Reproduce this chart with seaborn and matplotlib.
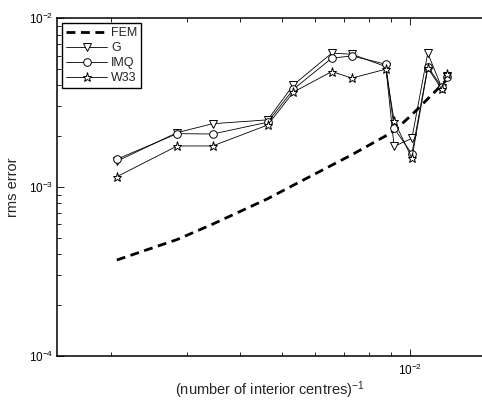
import numpy as np
import pandas as pd
import matplotlib
matplotlib.use("Agg")
import matplotlib.pyplot as plt
from matplotlib.ticker import LogLocator, NullFormatter, FixedLocator
import seaborn as sns

# inverse number of interior centres
h = [2.06e-3, 2.85e-3, 3.45e-3, 4.64e-3, 5.33e-3, 6.55e-3, 7.30e-3,
     8.76e-3, 9.16e-3, 1.008e-2, 1.098e-2, 1.184e-2, 1.216e-2]

fem = [3.69e-4, 4.88e-4, 6.02e-4, 8.52e-4, 1.025e-3, 1.346e-3, 1.553e-3,
       2.01e-3, 2.15e-3, 2.68e-3, 3.33e-3, 4.03e-3, 4.31e-3]
g = [1.42e-3, 2.10e-3, 2.37e-3, 2.50e-3, 4.03e-3, 6.21e-3, 6.12e-3,
     5.17e-3, 1.74e-3, 1.94e-3, 6.21e-3, 3.87e-3, 4.56e-3]
imq = [1.46e-3, 2.07e-3, 2.06e-3, 2.42e-3, 3.80e-3, 5.80e-3, 5.98e-3,
       5.34e-3, 2.23e-3, 1.57e-3, 5.17e-3, 3.90e-3, 4.50e-3]
w33 = [1.15e-3, 1.75e-3, 1.75e-3, 2.33e-3, 3.65e-3, 4.83e-3, 4.42e-3,
       4.99e-3, 2.47e-3, 1.48e-3, 5.06e-3, 3.80e-3, 4.68e-3]

sns.set_style("white")
plt.rcParams["font.family"] = ["Liberation Sans", "DejaVu Sans"]
plt.rcParams["mathtext.fontset"] = "custom"
plt.rcParams["mathtext.rm"] = "Liberation Sans"
plt.rcParams["mathtext.it"] = "Liberation Sans:italic"

fig = plt.figure(figsize=(4.82, 4.01), dpi=100)
ax = fig.add_axes([0.119, 0.113, 0.881, 0.8415])

df = pd.DataFrame({"h": h, "FEM": fem, "G": g, "IMQ": imq, "W33": w33})

sns.lineplot(data=df, x="h", y="FEM", ax=ax, color="black", linewidth=2.0,
             linestyle=(0, (3.2, 2.0)), label="FEM", sort=False)
sns.lineplot(data=df, x="h", y="G", ax=ax, color="black", linewidth=0.6,
             marker="v", markersize=5.5, markerfacecolor="white",
             markeredgecolor="black", markeredgewidth=0.7, label="G", sort=False)
sns.lineplot(data=df, x="h", y="IMQ", ax=ax, color="black", linewidth=0.6,
             marker="o", markersize=5.5, markerfacecolor="white",
             markeredgecolor="black", markeredgewidth=0.7, label="IMQ", sort=False)
sns.lineplot(data=df, x="h", y="W33", ax=ax, color="black", linewidth=0.6,
             marker="*", markersize=6.5, markerfacecolor="white",
             markeredgecolor="black", markeredgewidth=0.7, label="W33", sort=False)

ax.set_xscale("log")
ax.set_yscale("log")
ax.set_xlim(1.496e-3, 1.47e-2)
ax.set_ylim(1e-4, 1e-2)

ax.xaxis.set_major_locator(FixedLocator([1e-2]))
ax.xaxis.set_minor_locator(LogLocator(base=10, subs=np.arange(2, 10), numticks=20))
ax.xaxis.set_minor_formatter(NullFormatter())
ax.yaxis.set_major_locator(FixedLocator([1e-4, 1e-3, 1e-2]))
ax.yaxis.set_minor_locator(LogLocator(base=10, subs=np.arange(2, 10), numticks=20))
ax.yaxis.set_minor_formatter(NullFormatter())

ax.tick_params(which="both", direction="in", top=True, bottom=True,
               left=True, right=False, colors="black", labelsize=8.5, width=0.6)
ax.tick_params(which="major", length=5)
ax.tick_params(which="minor", length=3)
ax.tick_params(axis="x", pad=5)
ax.tick_params(axis="y", pad=3)

for side in ["left", "bottom", "top"]:
    ax.spines[side].set_color("black")
    ax.spines[side].set_linewidth(1.1)
ax.spines["right"].set_visible(False)

ax.set_xlabel("(number of interior centres)$^{-1}$", fontsize=10.5, labelpad=1)
ax.set_ylabel("rms error", fontsize=10.5, labelpad=6)

leg = ax.legend(loc="upper left", frameon=True, fancybox=False, fontsize=9,
                edgecolor="black", framealpha=1, borderaxespad=0.4,
                handlelength=3.3, handletextpad=0.3, labelspacing=0.25,
                borderpad=0.3)
leg.get_frame().set_linewidth(1.0)

ax.grid(False)
fig.savefig("out.png", dpi=100)
